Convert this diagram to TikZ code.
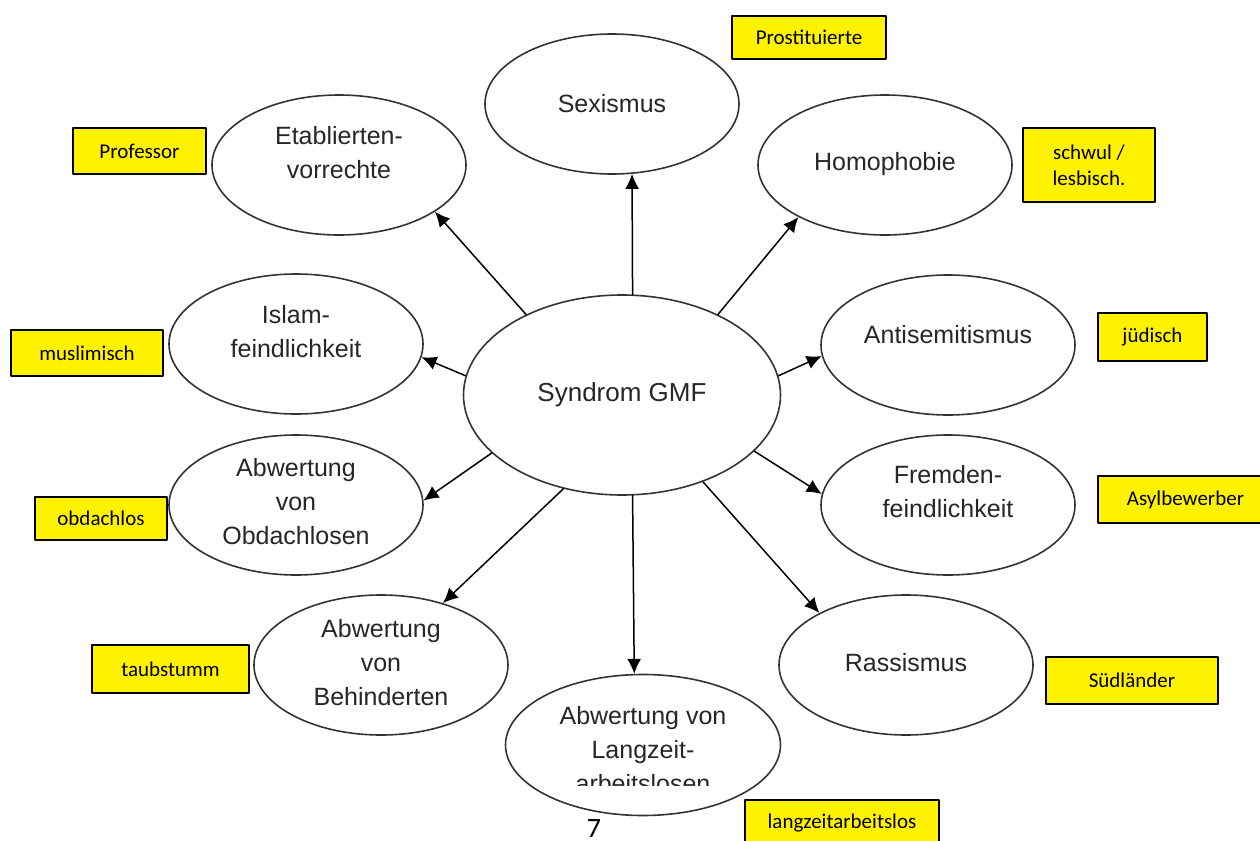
\documentclass[tikz,border=0pt]{standalone}
\usepackage{fontspec}
\setmainfont{Liberation Sans}
\newfontfamily\tagfont{Carlito}
\usetikzlibrary{shapes.geometric,arrows.meta}
\begin{document}
\begin{tikzpicture}[line cap=round,line join=round,>={Latex[length=7.5pt,width=7pt]},x=0.5pt,y=-0.5pt,
	oval/.style={ellipse,draw=black!80,line width=0.8pt,inner sep=0pt,minimum width=127pt,minimum height=70pt},
	word/.style={align=center,inner sep=0pt,text=black!85,font=\fontsize{12.5}{17}\selectfont},
	tag/.style={draw=black,line width=0.9pt,fill=yellow,inner sep=0pt,align=center,font=\tagfont\fontsize{10.5}{13}\selectfont},
	link/.style={->,line width=0.75pt}]
	\useasboundingbox (0,0) rectangle (1260,841);
	\clip (0,0) rectangle (1260,841);
	% ellipses
	\node[oval,minimum width=158.5pt,minimum height=100pt] (gmf) at (622,395) {};
	\node[oval] (sex) at (612,104) {};
	\node[oval] (etab) at (339,165) {};
	\node[oval] (homo) at (885,165) {};
	\node[oval] (islam) at (296,344) {};
	\node[oval] (anti) at (948,345) {};
	\node[oval] (obd) at (296,505) {};
	\node[oval] (fremd) at (948,505) {};
	\node[oval] (behind) at (381,665) {};
	\node[oval] (rass) at (906,665) {};
	\node[oval,minimum width=137.5pt,minimum height=70.5pt] (lang) at (643,745) {};
	% texts
	\node[word,font=\fontsize{13}{17}\selectfont] (gmftxt) at (gmf) {Syndrom GMF};
	\node[word] (sextxt) at (sex) {Sexismus};
	\node[word] (etabtxt) at ([yshift=6pt]etab) {Etablierten-\\vorrechte};
	\node[word] (homotxt) at ([yshift=0.5pt]homo) {Homophobie};
	\node[word] (islamtxt) at ([yshift=6pt]islam) {Islam-\\feindlichkeit};
	\node[word] (antitxt) at ([yshift=5pt]anti) {Antisemitismus};
	\node[word] (obdtxt) at ([yshift=1.5pt]obd) {Abwertung\\von\\Obdachlosen};
	\node[word] (fremdtxt) at ([yshift=6.5pt]fremd) {Fremden-\\feindlichkeit};
	\node[word] (behindtxt) at ([yshift=1pt]behind) {Abwertung\\von\\Behinderten};
	\node[word] (rasstxt) at ([yshift=1pt]rass) {Rassismus};
	\node[word] (langtxt) at ([yshift=-2.5pt]lang) {Abwertung von\\Langzeit-\\arbeitslosen};
	\fill[white] (570,786) rectangle (720,797);
	% arrows
	\draw[link] (gmf.84)--(sex.-74);
	\draw[link] (gmf.140)--(etab.-26);
	\draw[link] (gmf.40)--(homo.-149);
	\draw[link] (gmf.173)--(islam.-6);
	\draw[link] (gmf.7)--(anti.185);
	\draw[link] (gmf.204)--(obd.2);
	\draw[link] (gmf.-23)--(fremd.175);
	\draw[link] (gmf.238)--(behind.45);
	\draw[link] (gmf.-84)--(lang.97);
	\draw[link] (gmf.-47)--(rass.149);
	% yellow boxes
	\node[tag,minimum width=77pt,minimum height=21.5pt] (prost) at (809,37.5) {Prostituierte};
	\node[tag,minimum width=66.5pt,minimum height=23pt] (prof) at (139.5,151) {Professor};
	\node[tag,minimum width=66pt,minimum height=37pt] (schwul) at (1089,165) {schwul /\\lesbisch.};
	\node[tag,minimum width=76pt,minimum height=23pt] (musl) at (87,353) {muslimisch};
	\node[tag,minimum width=54.5pt,minimum height=24pt] (jued) at (1152.5,337) {jüdisch};
	\node[tag,minimum width=66pt,minimum height=21.5pt] (obdl) at (101,518.5) {obdachlos};
	\node[tag,minimum width=87.5pt,minimum height=23.5pt] (asyl) at (1185.5,499.5) {Asylbewerber};
	\node[tag,minimum width=78.5pt,minimum height=24pt] (taub) at (170.5,669) {taubstumm};
	\node[tag,minimum width=86pt,minimum height=23.5pt] (sued) at (1132,680.5) {Südländer};
	\node[tag,minimum width=97pt,minimum height=23pt] (langl) at (842,823) {langzeitarbeitslos};
	% page number
	\node[inner sep=0pt,font=\tagfont\fontsize{14}{16}\selectfont] (page) at (594,829) {7};
\end{tikzpicture}
\end{document}
